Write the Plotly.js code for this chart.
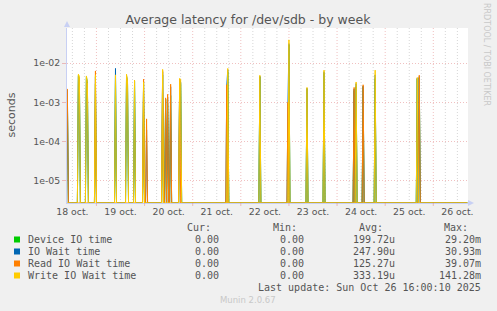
<!DOCTYPE html>
<html>
<head>
<meta charset="utf-8">
<script src="https://cdn.plot.ly/plotly-3.0.1.min.js"></script>
<style>
html,body{margin:0;padding:0;background:#f0f0f0;}
#chart{width:497px;height:311px;}
</style>
</head>
<body>
<div id="chart"></div>
<script>
// ---- data (30-minute samples; every other sample is 0) ----
const times = [
  "2025-10-18 09:30","2025-10-18 15:00","2025-10-18 15:30","2025-10-18 19:00","2025-10-18 19:30",
  "2025-10-18 23:30","2025-10-19 09:30","2025-10-19 15:00","2025-10-19 15:30","2025-10-19 19:00",
  "2025-10-19 23:30","2025-10-20 01:00","2025-10-20 09:00","2025-10-20 10:30","2025-10-20 11:30",
  "2025-10-20 13:00","2025-10-20 17:30","2025-10-20 18:00","2025-10-21 17:00","2025-10-21 17:30",
  "2025-10-22 09:30","2025-10-22 23:30","2025-10-23 00:00","2025-10-23 09:00","2025-10-23 17:30",
  "2025-10-24 08:30","2025-10-24 09:30","2025-10-24 13:00","2025-10-24 19:00","2025-10-25 16:00",
  "2025-10-25 17:00"
];
const deviceIO = [
  1.5e-3, 4.8e-3, 4.0e-3, 4.5e-3, 3.0e-3,
  3.0e-3, 4.8e-3, 4.5e-3, 3.0e-3, 3.5e-3,
  3.0e-3, 0,      5.0e-3, 1.2e-3, 9.0e-4,
  1.5e-3, 3.5e-3, 3.0e-3, 0,      6.0e-3,
  4.5e-3, 0,      2.9e-2, 2.2e-3, 5.5e-3,
  2.0e-3, 2.5e-3, 2.5e-3, 4.0e-3, 4.0e-3,
  4.2e-3
];
const ioWait = [
  2.1e-3, 4.5e-3, 3.8e-3, 4.2e-3, 2.8e-3,
  4.5e-3, 7.3e-3, 4.8e-3, 3.0e-3, 3.4e-3,
  3.5e-3, 2.0e-4, 6.0e-3, 1.2e-3, 1.3e-3,
  2.5e-3, 3.8e-3, 3.2e-3, 2.6e-3, 6.8e-3,
  4.6e-3, 8.0e-4, 3.1e-2, 2.3e-3, 6.0e-3,
  2.2e-3, 3.0e-3, 2.6e-3, 5.0e-3, 4.1e-3,
  4.5e-3
];
const readWait = [
  2.2e-3, 0,      0,      0,      0,
  6.3e-3, 0,      0,      0,      0,
  3.9e-3, 3.8e-4, 6.5e-3, 1.3e-3, 1.6e-3,
  2.9e-3, 3.9e-3, 0,      2.8e-3, 0,
  0,      1.0e-3, 0,      0,      0,
  2.4e-3, 0,      2.8e-3, 0,      0,
  4.9e-3
];
const writeWait = [
  0,      5.2e-3, 4.6e-3, 4.7e-3, 3.2e-3,
  5.0e-3, 5.0e-3, 5.2e-3, 3.5e-3, 3.7e-3,
  3.3e-3, 0,      6.9e-3, 0,      0,
  0,      4.1e-3, 3.8e-3, 0,      7.3e-3,
  4.9e-3, 0,      3.9e-2, 2.4e-3, 6.6e-3,
  0,      3.3e-3, 0,      6.6e-3, 4.3e-3,
  0
];
const seriesNames  = ["Device IO time","IO Wait time","Read IO Wait time","Write IO Wait time"];
const seriesColors = ["#00cc00","#0066b3","#ff8000","#ffcc00"];
const curVals = ["0.00","0.00","0.00","0.00"];
const minVals = ["0.00","0.00","0.00","0.00"];
const avgVals = ["199.72u","247.90u","125.27u","333.19u"];
const maxVals = ["29.20m","30.93m","39.07m","141.28m"];
const decadeTicks = [1e-5,1e-4,1e-3,1e-2];
const decadeLabels = ["1e-05","1e-04","1e-03","1e-02"];
const seriesStart = "2025-10-18 09:30";
const seriesEnd   = "2025-10-26 17:00";
const xRange = ["2025-10-18 09:19","2025-10-26 17:18"];
const yMin = 2.75e-6, yMax = 0.078;
const lastUpdate = "Last update: Sun Oct 26 16:00:10 2025";

// ---- build traces ----
const STEP = 30*60*1000;
const toMs = s => Date.parse(s.replace(" ","T")+":00Z");
const t0 = toMs(seriesStart), t1 = toMs(seriesEnd);
function buildSeries(vals){
  const map = {};
  times.forEach((t,i)=>{ map[toMs(t)] = vals[i]; });
  const xs=[], ys=[];
  for(let t=t0;t<=t1;t+=STEP){
    const v = map[t] || 0;
    xs.push(t);
    ys.push(v>0 ? v : yMin);   // zero is drawn on the floor, as rrdtool does
  }
  return {x:xs,y:ys};
}
const allVals = [deviceIO, ioWait, readWait, writeWait];
const traces = allVals.map((vals,i)=>{
  const s = buildSeries(vals);
  return {type:"scatter",mode:"lines",x:s.x,y:s.y,name:seriesNames[i],
          line:{color:seriesColors[i],width:1},hoverinfo:"skip",showlegend:false};
});

// ---- geometry helpers (plot area pixels) ----
const L=67, R=468, T=28, B=203, W=497, H=311;
const px = x => (x-L)/(R-L);
const py = y => (B-y)/(B-T);

const MAJOR = "rgba(228,140,140,0.55)";
const MINOR = "#d6d6d6";
const DOTS = "1px,2px";
const shapes = [];
// vertical grid every 6 h, red at midnight
const DAY = 86400000, SIX = 6*3600000;
for(let t=toMs("2025-10-18 12:00"); t<=toMs("2025-10-26 12:00"); t+=SIX){
  const midnight = (t % DAY) === 0;
  shapes.push({type:"line",xref:"x",yref:"paper",x0:t,x1:t,y0:0,y1:1,layer:"below",
    line:{color: midnight ? MAJOR : MINOR, width:1, dash:DOTS}});
  if(midnight){
    shapes.push({type:"line",xref:"x",yref:"paper",x0:t,x1:t,y0:py(203),y1:py(206),
      line:{color:MAJOR,width:1}});
  }
}
// minor horizontal grid (2..9 of each decade)
for(let e=-6;e<=-2;e++){
  for(let k=2;k<=9;k++){
    const v = k*Math.pow(10,e);
    if(v<yMin || v>yMax) continue;
    shapes.push({type:"line",xref:"paper",yref:"y",x0:0,x1:1,y0:Math.log10(v),y1:Math.log10(v),layer:"below",
      line:{color:MINOR,width:1,dash:DOTS}});
  }
}
// axis arrows
shapes.push({type:"path",xref:"paper",yref:"paper",
  path:`M ${px(64)} ${py(27)} L ${px(70)} ${py(27)} L ${px(67)} ${py(21)} Z`,
  fillcolor:"#c8d0f4",line:{width:0}});
shapes.push({type:"path",xref:"paper",yref:"paper",
  path:`M ${px(468)} ${py(200)} L ${px(468)} ${py(206)} L ${px(474)} ${py(203)} Z`,
  fillcolor:"#c8d0f4",line:{width:0}});

// legend squares
const rowY = [239.5,251.5,263.5,275.5];
rowY.forEach((y,i)=>{
  shapes.push({type:"rect",xref:"paper",yref:"paper",x0:px(14),x1:px(20),y0:py(y+3),y1:py(y-3),
    fillcolor:seriesColors[i],line:{width:0}});
});

const mono = {family:"DejaVu Sans Mono",size:10,color:"#555555"};
const annotations = [];
function txt(text,x,y,anchor,font,extra){
  annotations.push(Object.assign({text:text,xref:"paper",yref:"paper",x:px(x),y:py(y),
    xanchor:anchor,yanchor:"middle",showarrow:false,font:font},extra||{}));
}
// header
txt("Cur:",213,227.5,"right",mono);
txt("Min:",299,227.5,"right",mono);
txt("Avg:",384.5,227.5,"right",mono);
txt("Max:",470,227.5,"right",mono);
seriesNames.forEach((n,i)=>{
  const y=rowY[i];
  txt(n,26,y,"left",mono);
  txt(curVals[i],220.5,y,"right",mono);
  txt(minVals[i],306,y,"right",mono);
  txt(avgVals[i],397,y,"right",mono);
  txt(maxVals[i],483,y,"right",mono);
});
txt(lastUpdate,483,287.5,"right",mono);
txt("Munin 2.0.67",248,300,"center",{family:"DejaVu Sans",size:8.5,color:"#c8c8c8"});
txt("seconds",11,115.5,"center",{family:"DejaVu Sans",size:11,color:"#555555"},{textangle:-90});
txt("RRDTOOL / TOBI OETIKER",487,54,"center",{family:"DejaVu Sans",size:8,color:"#c8c8c8"},{textangle:90});

const layout = {
  width:W,height:H,
  paper_bgcolor:"#f0f0f0",plot_bgcolor:"#ffffff",
  margin:{l:L,r:W-R,t:T,b:H-B,pad:0},
  showlegend:false,
  title:{text:"Average latency for /dev/sdb - by week",xref:"container",yref:"container",
    x:248/W,y:1-19.5/H,xanchor:"center",yanchor:"middle",
    font:{family:"DejaVu Sans",size:12.5,color:"#555555"}},
  xaxis:{type:"date",range:xRange,tickmode:"linear",tick0:"2025-10-18 12:00",dtick:DAY,
    tickformat:"%-d oct.",showgrid:false,zeroline:false,showline:true,linecolor:"#c8d0f4",linewidth:1,
    ticks:"",tickfont:{family:"DejaVu Sans",size:9.33,color:"#555555"},fixedrange:true},
  yaxis:{type:"log",range:[Math.log10(yMin),Math.log10(yMax)],tickmode:"array",
    tickvals:decadeTicks,ticktext:decadeLabels,showgrid:true,gridcolor:MAJOR,
    griddash:DOTS,gridwidth:1,zeroline:false,showline:true,linecolor:"#c8d0f4",linewidth:1,
    ticks:"outside",ticklen:4,tickcolor:MAJOR,
    tickfont:{family:"DejaVu Sans",size:9.33,color:"#555555"},fixedrange:true},
  shapes:shapes,
  annotations:annotations
};
Plotly.newPlot("chart",traces,layout,{displayModeBar:false,staticPlot:true});
</script>
</body>
</html>
